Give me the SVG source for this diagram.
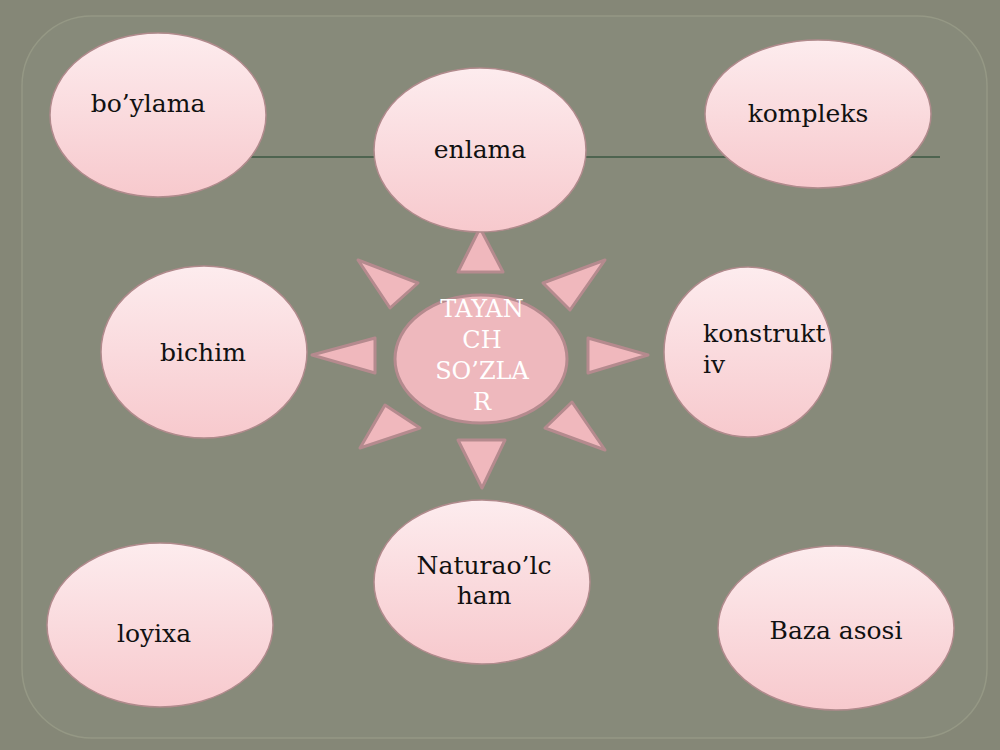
<svg xmlns="http://www.w3.org/2000/svg" width="1000" height="750" viewBox="0 0 1000 750">
<defs>
<linearGradient id="g" x1="0" y1="0" x2="0" y2="1"><stop offset="0" stop-color="#fdecee"/><stop offset="1" stop-color="#f7c9cd"/></linearGradient>
<style>
.n{fill:url(#g);stroke:#b08a8c;stroke-width:1.5}
.t{font-family:"DejaVu Serif","Liberation Serif",serif;font-size:25px;fill:#111}
.tri{fill:#f0b8bd;stroke:#b58a8e;stroke-width:3;stroke-linejoin:round}
</style>
</defs>
<rect width="1000" height="750" fill="#858777"/>
<rect x="22" y="16" width="965" height="722" rx="70" fill="#878a7a" stroke="#959885" stroke-width="1.5"/>
<g id="connectors"><line x1="240" y1="157" x2="940" y2="157" stroke="#4e6450" stroke-width="2"/></g>
<g id="sun">
<polygon class="tri" points="480,228 458,272 503,272"/>
<polygon class="tri" points="358,260 390,308 418,283"/>
<polygon class="tri" points="605,260 543,283 570,310"/>
<polygon class="tri" points="312,355 375,338 375,373"/>
<polygon class="tri" points="648,355 588,338 588,373"/>
<polygon class="tri" points="360,448 385,405 420,428"/>
<polygon class="tri" points="605,450 545,428 572,402"/>
<polygon class="tri" points="482,488 458,440 505,440"/>
</g>
<g id="center"><ellipse cx="481" cy="359" rx="86" ry="64" fill="#eeb8bd" stroke="#b58a8e" stroke-width="3"/>
<text font-family="DejaVu Serif,serif" font-size="24" fill="#fff" text-anchor="middle"><tspan x="482" y="317">TAYAN</tspan><tspan x="482" y="348">CH</tspan><tspan x="482" y="379">SO’ZLA</tspan><tspan x="482" y="410">R</tspan></text></g>
<g id="boylama"><ellipse class="n" cx="158" cy="115" rx="108" ry="82"/><text class="t" x="148" y="112" text-anchor="middle">bo’ylama</text></g>
<g id="enlama"><ellipse class="n" cx="480" cy="150" rx="106" ry="82"/><text class="t" x="480" y="158" text-anchor="middle">enlama</text></g>
<g id="kompleks"><ellipse class="n" cx="818" cy="114" rx="113" ry="74"/><text class="t" x="808" y="122" text-anchor="middle">kompleks</text></g>
<g id="bichim"><ellipse class="n" cx="204" cy="352" rx="103" ry="86"/><text class="t" x="203" y="361" text-anchor="middle">bichim</text></g>
<g id="konstruktiv"><ellipse class="n" cx="748" cy="352" rx="84" ry="85"/><text class="t"><tspan x="703" y="342">konstrukt</tspan><tspan x="703" y="373">iv</tspan></text></g>
<g id="naturaolcham"><ellipse class="n" cx="482" cy="582" rx="108" ry="82"/><text class="t" text-anchor="middle"><tspan x="484" y="574">Naturao’lc</tspan><tspan x="484" y="604">ham</tspan></text></g>
<g id="loyixa"><ellipse class="n" cx="160" cy="625" rx="113" ry="82"/><text class="t" x="154" y="642" text-anchor="middle">loyixa</text></g>
<g id="baza"><ellipse class="n" cx="836" cy="628" rx="118" ry="82"/><text class="t" x="836" y="639" text-anchor="middle">Baza asosi</text></g>
</svg>
